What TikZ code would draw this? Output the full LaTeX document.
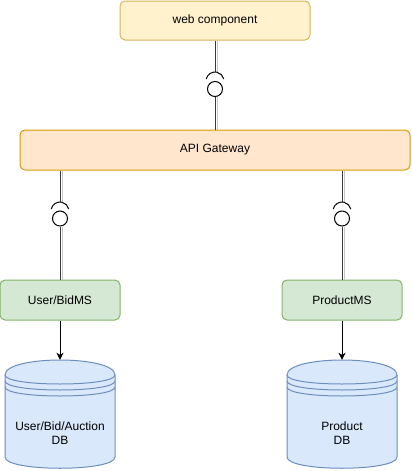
\documentclass[tikz,border=0pt]{standalone}
\usepackage{fontspec}
\setmainfont{Liberation Sans}
\usetikzlibrary{arrows.meta,calc}
\definecolor{webfill}{HTML}{FFF2CC}
\definecolor{webdraw}{HTML}{D6B656}
\definecolor{apifill}{HTML}{FFE6CC}
\definecolor{apidraw}{HTML}{D79B00}
\definecolor{msfill}{HTML}{D5E8D4}
\definecolor{msdraw}{HTML}{82B366}
\definecolor{dbfill}{HTML}{DAE8FC}
\definecolor{dbdraw}{HTML}{6C8EBF}
\definecolor{linecol}{HTML}{3A3A3A}
\tikzset{
  box/.style={rectangle, rounded corners=5pt, line width=1pt, inner sep=0pt,
    font=\fontsize{12pt}{14pt}\selectfont},
  webbox/.style={box, fill=webfill, draw=webdraw, minimum width=190pt, minimum height=39pt},
  apibox/.style={box, fill=apifill, draw=apidraw, minimum width=390pt, minimum height=40pt},
  msbox/.style={box, fill=msfill, draw=msdraw, minimum width=120pt, minimum height=40pt},
  dbanchor/.style={rectangle, minimum width=110pt, minimum height=110pt, inner sep=0pt},
  dblabel/.style={align=center, font=\fontsize{12pt}{14pt}\selectfont, inner sep=0pt},
  conn/.style={draw=linecol, line width=1pt,
    preaction={draw=black!22, line width=1pt, transform canvas={xshift=2pt}}},
  socket/.style={draw=black, line width=1pt},
  lolli/.style={circle, draw=black, line width=1pt, fill=white, minimum size=15pt, inner sep=0pt},
  flow/.style={draw=black, line width=1pt, -{Stealth[length=7pt,width=7pt,inset=2pt]}},
  pics/datastore/.style={code={
    \path[fill=dbfill, draw=dbdraw, line width=1pt]
      (-55,40) .. controls (-55,60) and (55,60) .. (55,40)
      -- (55,-42) .. controls (55,-57) and (-55,-57) .. (-55,-42) -- cycle;
    \draw[dbdraw, line width=1pt] (-55,40) .. controls (-55,28) and (55,28) .. (55,40);
    \draw[dbdraw, line width=1pt] (-55,34) .. controls (-55,22) and (55,22) .. (55,34);
    \draw[dbdraw, line width=1pt] (-55,28) .. controls (-55,16) and (55,16) .. (55,28);
  }}
}
\begin{document}
\begin{tikzpicture}[x=1pt,y=1pt]
\useasboundingbox (0,0) rectangle (412,-471);

% boxes
\node[webbox] (web) at (215,-20.5) {web component};
\node[apibox] (api) at (215,-150) {API Gateway};
\node[msbox] (ms1) at (60,-300) {User/BidMS};
\node[msbox] (ms2) at (342,-300) {ProductMS};

% datastores
\pic at (60,-415) {datastore};
\pic at (342,-415) {datastore};
\node[dbanchor] (db1) at (60,-415) {};
\node[dbanchor] (db2) at (342,-415) {};
\node[dblabel] (db1text) at (60,-433) {User/Bid/Auction\\DB};
\node[dblabel] (db2text) at (342,-433) {Product\\DB};

% interface symbols
\node[lolli] (i1) at (215,-89) {};
\coordinate (s1) at (215,-72);
\node[lolli] (i2) at (60,-218.5) {};
\coordinate (s2) at (60,-202);
\node[lolli] (i3) at (342,-218.5) {};
\coordinate (s3) at (342,-202);

% web -> API
\draw[conn] (web.south) -- (s1);
\draw[socket] ($(s1)+(-8.77,-7)$) arc[start angle=167, end angle=13, radius=9pt];
\draw[conn] (i1.south) -- (api.north);

% API -> User/BidMS
\draw[conn] (api.south -| s2) -- (s2);
\draw[socket] ($(s2)+(-8.77,-7)$) arc[start angle=167, end angle=13, radius=9pt];
\draw[conn] (i2.south) -- (ms1.north);

% API -> ProductMS
\draw[conn] (api.south -| s3) -- (s3);
\draw[socket] ($(s3)+(-8.77,-7)$) arc[start angle=167, end angle=13, radius=9pt];
\draw[conn] (i3.south) -- (ms2.north);

% MS -> DB
\draw[flow] (ms1.south) -- (db1.north);
\draw[flow] (ms2.south) -- (db2.north);
\end{tikzpicture}
\end{document}
